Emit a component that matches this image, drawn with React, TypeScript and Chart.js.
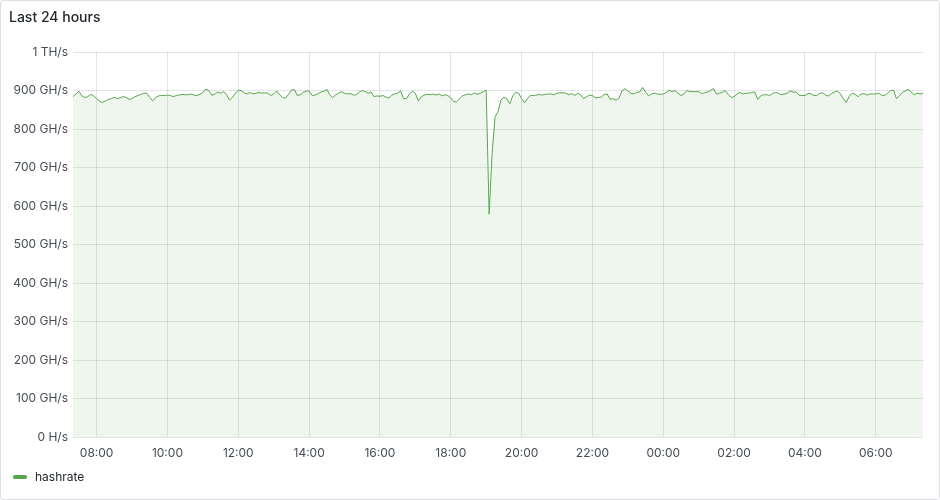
import { useEffect, useRef } from "react";
import { Chart, registerables } from "chart.js";

Chart.register(...registerables);

// Time axis: minutes since 00:00 of the first day
const startMinute = 440; // 07:20
const stepMinutes = 5;
const axisMin = 440;
const axisMax = 1880;

const hashrate: number[] = [
  884, 891, 898, 886, 882, 884, 890, 886, 879, 872,
  869, 873, 877, 879, 882, 879, 881, 884, 882, 877,
  879, 884, 887, 890, 893, 893, 882, 873, 882, 886,
  887, 887, 888, 887, 884, 887, 888, 890, 889, 889,
  891, 888, 887, 890, 895, 904, 900, 888, 890, 896,
  893, 897, 890, 875, 882, 893, 901, 900, 894, 891,
  895, 891, 893, 895, 893, 894, 893, 887, 891, 899,
  889, 882, 880, 890, 901, 903, 887, 889, 895, 898,
  899, 887, 888, 892, 896, 898, 903, 889, 881, 889,
  893, 897, 893, 891, 892, 888, 889, 896, 900, 897,
  893, 896, 884, 886, 885, 887, 883, 880, 888, 891,
  893, 899, 879, 879, 891, 898, 893, 873, 884, 888,
  890, 889, 891, 888, 891, 886, 889, 887, 881, 871,
  871, 879, 886, 889, 891, 889, 894, 890, 893, 897,
  901, 579, 738, 832, 845, 875, 883, 878, 866, 886,
  895, 893, 879, 868, 879, 887, 887, 888, 890, 888,
  890, 891, 891, 889, 893, 894, 894, 893, 889, 892,
  887, 893, 889, 879, 884, 888, 887, 881, 882, 883,
  890, 891, 877, 879, 875, 880, 899, 905, 899, 893,
  891, 895, 896, 908, 896, 886, 891, 893, 891, 890,
  891, 895, 901, 897, 900, 893, 887, 891, 900, 897,
  897, 897, 897, 892, 894, 896, 900, 905, 891, 893,
  895, 900, 890, 882, 884, 891, 895, 891, 893, 893,
  895, 896, 877, 886, 889, 889, 887, 892, 895, 893,
  889, 891, 893, 899, 896, 896, 888, 887, 887, 892,
  892, 887, 887, 893, 894, 888, 886, 892, 896, 899,
  891, 879, 869, 885, 893, 890, 884, 891, 892, 888,
  891, 891, 891, 893, 888, 887, 893, 900, 901, 879,
  886, 895, 899, 903, 896, 889, 893, 891, 893,
];

const xTickValues = [480, 600, 720, 840, 960, 1080, 1200, 1320, 1440, 1560, 1680, 1800];
const xTickLabels = ["08:00", "10:00", "12:00", "14:00", "16:00", "18:00", "20:00", "22:00", "00:00", "02:00", "04:00", "06:00"];
const yTickValues = [0, 100, 200, 300, 400, 500, 600, 700, 800, 900, 1000];
const yTickLabels = ["0 H/s", "100 GH/s", "200 GH/s", "300 GH/s", "400 GH/s", "500 GH/s", "600 GH/s", "700 GH/s", "800 GH/s", "900 GH/s", "1 TH/s"];

const seriesName = "hashrate";
const lineColor = "#56A64B";
const fillColor = "rgba(86,166,75,0.1)";
const gridColor = "rgba(36,41,46,0.12)";
const tickColor = "#464c54";

export default function App() {
  const ref = useRef<HTMLCanvasElement>(null);

  useEffect(() => {
    document.body.style.margin = "0";
    const points = hashrate.map((v, i) => ({ x: startMinute + i * stepMinutes, y: v }));
    const chart = new Chart(ref.current!, {
      type: "line",
      data: {
        datasets: [
          {
            label: seriesName,
            data: points,
            borderColor: lineColor,
            backgroundColor: fillColor,
            borderWidth: 1,
            fill: "origin",
            pointRadius: 0,
            tension: 0,
          },
        ],
      },
      options: {
        animation: false,
        responsive: true,
        maintainAspectRatio: false,
        layout: { padding: { top: 52, right: 17, left: 0, bottom: 0 } },
        plugins: { legend: { display: false }, tooltip: { enabled: false } },
        scales: {
          x: {
            type: "linear",
            min: axisMin,
            max: axisMax,
            afterBuildTicks: (scale: any) => {
              scale.ticks = xTickValues.map((v) => ({ value: v }));
            },
            afterFit: (scale: any) => {
              scale.height = 33;
            },
            ticks: {
              color: tickColor,
              font: { family: "Inter", size: 12 },
              padding: 9,
              maxRotation: 0,
              autoSkip: false,
              callback: (v: any) => {
                const idx = xTickValues.indexOf(Number(v));
                return idx >= 0 ? xTickLabels[idx] : "";
              },
            },
            grid: { color: gridColor, drawTicks: false },
            border: { display: false },
          },
          y: {
            min: 0,
            max: 1000,
            afterBuildTicks: (scale: any) => {
              scale.ticks = yTickValues.map((v) => ({ value: v }));
            },
            afterFit: (scale: any) => {
              scale.width = 73;
            },
            ticks: {
              color: tickColor,
              font: { family: "Inter", size: 12 },
              padding: 5,
              callback: (v: any) => {
                const idx = yTickValues.indexOf(Number(v));
                return idx >= 0 ? yTickLabels[idx] : "";
              },
            },
            grid: { color: gridColor, drawTicks: false },
            border: { display: false },
          },
        },
      },
    });
    return () => chart.destroy();
  }, []);

  return (
    <div style={{ position: "relative", width: 940, height: 500, background: "#fff", fontFamily: "Inter, sans-serif", overflow: "hidden" }}>
      <div style={{ position: "absolute", left: 0, top: 0, width: 940, height: 470 }}>
        <canvas ref={ref} />
      </div>
      <div style={{ position: "absolute", left: 9, top: 8, fontSize: 14, fontWeight: 500, color: "#24292e", lineHeight: "18px" }}>
        Last 24 hours
      </div>
      <div style={{ position: "absolute", left: 13, top: 468, height: 18, display: "flex", alignItems: "center" }}>
        <span style={{ display: "inline-block", width: 14, height: 4, borderRadius: 2, background: lineColor, marginRight: 8 }} />
        <span style={{ fontSize: 12, color: "#24292e", lineHeight: "18px" }}>{seriesName}</span>
      </div>
      <div style={{ position: "absolute", inset: 0, border: "1px solid #dcdee1", borderRadius: 3, pointerEvents: "none" }} />
    </div>
  );
}
